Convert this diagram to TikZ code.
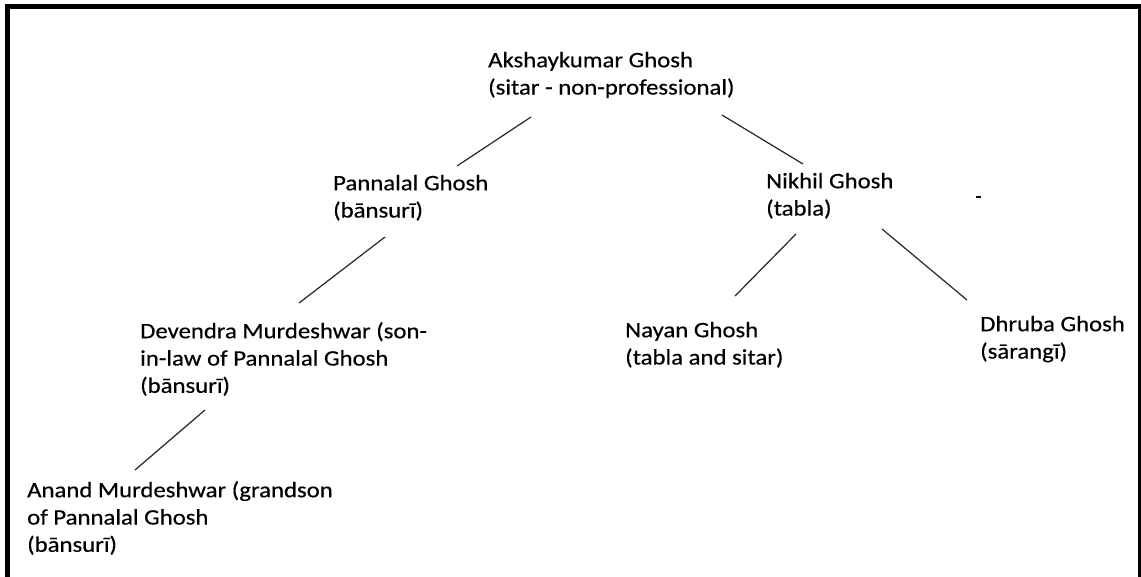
\documentclass[tikz,border=0pt]{standalone}
\usepackage{fontspec}
\setmainfont{Carlito}[FakeStretch=1.125,FakeBold=0.4]
\begin{document}
\begin{tikzpicture}[x=1pt,y=-1pt,
  person/.style={anchor=north west,inner sep=0pt,align=left,text=black,
    font=\fontsize{22}{27.3}\selectfont},
  link/.style={line width=1.2pt,draw=black!85}]
\useasboundingbox (0,0) rectangle (1141,577);
\fill[white] (0,0) rectangle (1141,577);
% frame
\draw[line width=5pt] (7.5,577) -- (7.5,6.5) -- (1141,6.5);
\draw[line width=2.5pt] (1139.5,4) -- (1139.5,577);
% people (first baseline minus 0.7 baselineskip)
\node[person] (ak) at (488,67-19.1) {\strut Akshaykumar Ghosh\\(sitar - non-professional)};
\node[person] (pg) at (333,190-19.1) {\strut Pannalal Ghosh\\(b\=ansur\=\i)};
\node[person] (ng) at (766,188-19.1) {\strut Nikhil Ghosh\\(tabla)};
\node[person] (dm) at (140,338-19.1) {\strut Devendra Murdeshwar (son-\\in-law of Pannalal Ghosh\\(b\=ansur\=\i)};
\node[person] (ny) at (625,337-19.1) {\strut Nayan Ghosh\\(tabla and sitar)};
\node[person] (dg) at (980,331-19.1) {\strut Dhruba Ghosh\\(s\=arang\=\i)};
\node[person] (am) at (27,497-19.1) {\strut Anand Murdeshwar (grandson\\of Pannalal Ghosh\\(b\=ansur\=\i)};
% connector end points
\coordinate (ak-l) at (531,117);
\coordinate (pg-t) at (457,166);
\coordinate (ak-r) at (722,115);
\coordinate (ng-t) at (803,164);
\coordinate (pg-b) at (385,237);
\coordinate (dm-t) at (299,303);
\coordinate (ng-bl) at (796,234);
\coordinate (ny-t) at (735,296);
\coordinate (ng-br) at (882,229);
\coordinate (dg-t) at (967,300);
\coordinate (dm-b) at (205,410);
\coordinate (am-t) at (135,470);
\draw[link] (ak-l) -- (pg-t);
\draw[link] (ak-r) -- (ng-t);
\draw[link] (pg-b) -- (dm-t);
\draw[link] (ng-bl) -- (ny-t);
\draw[link] (ng-br) -- (dg-t);
\draw[link] (dm-b) -- (am-t);
% stray mark
\coordinate (m1) at (976,197);
\coordinate (m2) at (981,197);
\draw[line width=1.5pt] (m1) -- (m2);
\end{tikzpicture}
\end{document}
